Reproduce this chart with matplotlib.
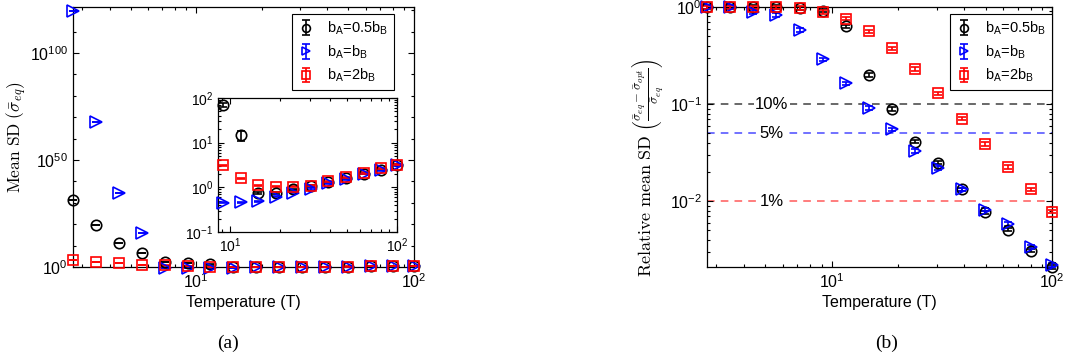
import matplotlib
matplotlib.use('Agg')
import matplotlib.pyplot as plt
from matplotlib.ticker import NullFormatter
import numpy as np

plt.rcParams['font.family'] = ['Liberation Sans', 'DejaVu Sans']
plt.rcParams['mathtext.fontset'] = 'custom'
plt.rcParams['mathtext.rm'] = 'Liberation Sans'
plt.rcParams['mathtext.it'] = 'Liberation Sans:italic'
plt.rcParams['mathtext.bf'] = 'Liberation Sans:bold'

# temperatures (same grid in both panels)
T = [2.72, 3.47, 4.41, 5.62, 7.16, 9.12, 11.6, 14.8, 18.8, 24.0,
     30.5, 38.9, 49.5, 63.1, 80.4, 100.0]

labels = [r'b$_\mathrm{A}$=0.5b$_\mathrm{B}$', r'b$_\mathrm{A}$=b$_\mathrm{B}$',
          r'b$_\mathrm{A}$=2b$_\mathrm{B}$']

# (a) mean SD (huge values at low T)
sd_half = [10**31.3, 10**19.6, 10**11.1, 10**6.4, 10**2.5, 70, 14.6, 0.75, 0.75,
           0.9, 1.08, 1.3, 1.6, 2.0, 2.5, 3.2]
sd_equal = [10**119.5, 10**67.6, 10**34.7, 10**15.7, 0.42, 0.45, 0.46, 0.49, 0.62,
            0.75, 0.92, 1.23, 1.53, 2.0, 2.43, 3.1]
sd_double = [10**3.3, 10**2.2, 10**1.7, 10**0.9, 10**0.7, 3.1, 1.6, 1.12, 1.03,
             1.03, 1.09, 1.35, 1.67, 2.1, 2.65, 3.2]
# relative errors of (a)
err_half = [0.03, 0.03, 0.03, 0.03, 0.03, 0.08, 0.25, 0.05, 0.05,
            0.04, 0.04, 0.03, 0.03, 0.03, 0.03, 0.03]
err_small = [0.03] * 16

# (b) relative mean SD
rel_half = [1.0, 1.0, 1.0, 1.0, 0.97, 0.92, 0.63, 0.2, 0.089, 0.041,
            0.025, 0.0133, 0.0077, 0.0051, 0.0031, 0.0021]
rel_equal = [1.0, 1.0, 0.89, 0.83, 0.58, 0.29, 0.163, 0.091, 0.055, 0.033,
             0.022, 0.0133, 0.0082, 0.0058, 0.0034, 0.0022]
rel_double = [0.99, 0.99, 0.99, 0.99, 0.98, 0.89, 0.76, 0.56, 0.375, 0.23,
              0.129, 0.071, 0.039, 0.0225, 0.0132, 0.0078]
rel_err = [0.04] * 16

thresholds = [0.1, 0.05, 0.01]
threshold_text = ['10%', '5%', '1%']
threshold_colors = ['#404040', '#4a4aff', '#ff5a5a']

styles = [dict(marker='o', color='k', ms=7.5),
          dict(marker='>', color='b', ms=8),
          dict(marker='s', color='r', ms=7)]


def draw(ax, x, series, errs):
    handles = []
    for y, e, st in zip(series, errs, styles):
        y = np.array(y)
        yerr = y * np.array(e)
        h = ax.errorbar(x, y, yerr=yerr, linestyle='none', marker=st['marker'],
                        color=st['color'], mfc='none', mec=st['color'],
                        ms=st['ms'], mew=1.2, elinewidth=1.2, capsize=3,
                        capthick=1.2, clip_on=False, zorder=5)
        for art in h.lines[1] + h.lines[2]:
            art.set_clip_on(False)
        handles.append(h)
    return handles


def style_axes(ax, size=11.5):
    ax.set_xscale('log')
    ax.set_yscale('log')
    ax.tick_params(which='both', direction='in', top=True, right=True,
                   labelsize=size, width=0.8)
    ax.tick_params(which='major', length=4)
    ax.tick_params(which='minor', length=2.2)
    for s in ax.spines.values():
        s.set_linewidth(0.9)


def add_legend(ax, hs, xr):
    leg = ax.legend(hs, labels, loc='upper right', bbox_to_anchor=(xr, 0.973),
                    borderaxespad=0, fontsize=10.5, frameon=True, fancybox=False,
                    edgecolor='k', framealpha=1, borderpad=0.4, handlelength=1.1,
                    handletextpad=0.9, labelspacing=0.42, markerscale=0.75)
    leg.get_frame().set_linewidth(0.8)
    return leg


fig = plt.figure(figsize=(10.68, 3.59), dpi=100)

##### panel (a)
ax1 = fig.add_axes([0.0684, 0.2563, 0.3193, 0.7242])
style_axes(ax1)
hs = draw(ax1, T, [sd_half, sd_equal, sd_double], [err_half, err_small, err_small])
ax1.set_xlim(T[0], 100)
ax1.set_ylim(1, 10**121.5)
ax1.set_yticks([1, 1e50, 1e100])
ax1.set_yticks([10.0**k for k in range(10, 130, 10) if k % 50 != 0], minor=True)
ax1.yaxis.set_minor_formatter(NullFormatter())
ax1.set_xlabel('Temperature (T)', fontsize=11.5, labelpad=3)
ax1.set_ylabel(r'$\mathrm{Mean\ SD}\ (\bar{\sigma}_{eq})$', fontsize=12.5,
               math_fontfamily='cm')
ax1.yaxis.set_label_coords(-0.13, 0.5)
add_legend(ax1, hs, 0.94)

# inset zoom on the high temperature part
ins = fig.add_axes([0.2041, 0.3538, 0.1676, 0.3733])
style_axes(ins, size=10)
draw(ins, T[5:], [sd_half[5:], sd_equal[5:], sd_double[5:]],
     [err_half[5:], err_small[5:], err_small[5:]])
ins.set_xlim(8.5, 100)
ins.set_ylim(0.1, 100)
ins.set_yticks([0.1, 1, 10, 100])
ins.yaxis.set_minor_formatter(NullFormatter())

##### panel (b)
ax2 = fig.add_axes([0.662, 0.2563, 0.323, 0.7242])
style_axes(ax2)
for val, txt, c in zip(thresholds, threshold_text, threshold_colors):
    ax2.axhline(val, color=c, ls=(0, (5, 4)), lw=1.1, zorder=1)
    ax2.text(0.188, val, txt, transform=ax2.get_yaxis_transform(), ha='center',
             va='center', fontsize=12, zorder=2,
             bbox=dict(facecolor='white', edgecolor='none', pad=1))
hs2 = draw(ax2, T, [rel_half, rel_equal, rel_double], [rel_err] * 3)
ax2.set_xlim(T[0], 100)
ax2.set_ylim(0.0021, 1)
ax2.set_xlabel('Temperature (T)', fontsize=11.5, labelpad=3)
ax2.set_ylabel(r'$\mathrm{Relative\ mean\ SD}\ \left(\frac{\bar{\sigma}_{eq}-\bar{\sigma}_{opt}}{\bar{\sigma}_{eq}}\right)$',
               fontsize=13, math_fontfamily='cm')
ax2.yaxis.set_label_coords(-0.118, 0.38)
add_legend(ax2, hs2, 1.0)

# captions
fig.text(0.2135, 0.045, '(a)', ha='center', va='center', fontsize=14,
         family='Liberation Serif')
fig.text(0.8305, 0.045, '(b)', ha='center', va='center', fontsize=14,
         family='Liberation Serif')

fig.savefig('out.png', dpi=100)
